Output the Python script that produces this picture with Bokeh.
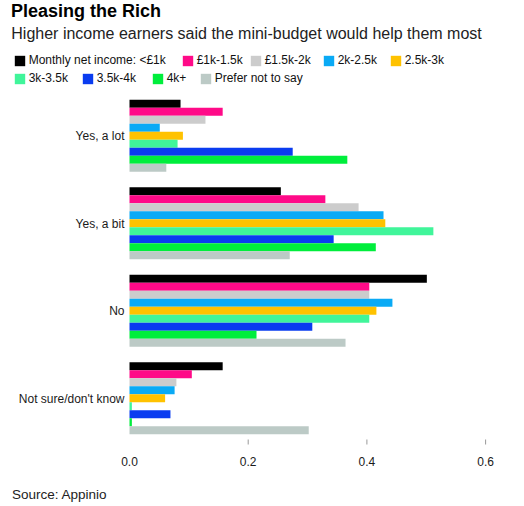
from bokeh.plotting import figure
from bokeh.models import Range1d, Legend, LegendItem
from bokeh.core.properties import value
from bokeh.embed import file_html
from bokeh.resources import INLINE

# ---- data ----
categories = ["Yes, a lot", "Yes, a bit", "No", "Not sure/don't know"]
series_labels = ["Monthly net income: <£1k", "£1k-1.5k", "£1.5k-2k", "2k-2.5k",
                 "2.5k-3k", "3k-3.5k", "3.5k-4k", "4k+", "Prefer not to say"]
v_lt1k = [0.086, 0.255, 0.501, 0.157]
v_1k_15k = [0.157, 0.330, 0.404, 0.105]
v_15k_2k = [0.128, 0.386, 0.404, 0.079]
v_2k_25k = [0.051, 0.428, 0.443, 0.076]
v_25k_3k = [0.090, 0.431, 0.416, 0.060]
v_3k_35k = [0.081, 0.512, 0.404, 0.004]
v_35k_4k = [0.275, 0.344, 0.308, 0.069]
v_4kplus = [0.367, 0.415, 0.214, 0.004]
v_prefer = [0.062, 0.270, 0.364, 0.302]
series_values = [v_lt1k, v_1k_15k, v_15k_2k, v_2k_25k, v_25k_3k,
                 v_3k_35k, v_35k_4k, v_4kplus, v_prefer]
colors = ["#000000", "#ff0a88", "#cccccc", "#0aaaf5", "#ffc200",
          "#40f59a", "#0a3cf0", "#00ee3c", "#bccac6"]
x_ticks = [0, 0.2, 0.4, 0.6]
title_text = "Pleasing the Rich"
subtitle_text = "Higher income earners said the mini-budget would help them most"
source_text = "Source: Appinio"

# ---- layout constants (pixels) ----
W, H = 524, 506
X0_PX, PX_PER_X = 129.0, 593.5          # where value 0 sits, px per unit
Y0_PX, PX_PER_CAT = 397.7, 87.5          # centre of last category, px per category
FONT = "Liberation Sans"
legend_square_x = [14, 182, 250, 323, 390, 14, 82, 152, 200]
legend_row = [0, 0, 0, 0, 0, 1, 1, 1, 1]
legend_row_vy = [439, 421]

p = figure(width=W, height=H, title=None, toolbar_location=None,
           output_backend="svg",
           x_range=Range1d(-X0_PX / PX_PER_X, (W - X0_PX) / PX_PER_X),
           y_range=Range1d(-(H - Y0_PX) / PX_PER_CAT, Y0_PX / PX_PER_CAT),
           x_axis_location=None, y_axis_location=None,
           min_border=0)
p.extra_x_ranges = {"px": Range1d(0, W)}
p.extra_y_ranges = {"px": Range1d(H, 0)}
p.outline_line_color = None
p.grid.visible = False
p.background_fill_color = "white"
p.border_fill_color = "white"

n = len(series_labels)
bar_h = 0.823 / n
ncat = len(categories)
base_y = [ncat - 1 - i for i in range(ncat)]

renderers = []
for j, (vals, col) in enumerate(zip(series_values, colors)):
    off = ((n - 1) / 2 - j) * bar_h
    ys = [b + off for b in base_y]
    r = p.hbar(y=ys, right=vals, left=0, height=bar_h, fill_color=col,
               line_color=None)
    renderers.append(r)

# category labels (y axis)
p.text(x=[124] * ncat, y=base_y, text=categories, x_range_name="px",
       text_font=value(FONT), text_font_size="12px", text_color="#1a1a1a",
       text_align="right", text_baseline="alphabetic", y_offset=0.5)

# x axis: tick marks and labels
p.segment(x0=x_ticks[1:], x1=x_ticks[1:], y0=439, y1=444, y_range_name="px",
          line_color="#999999", line_width=1)
p.text(x=x_ticks, y=[461] * len(x_ticks), text=[f"{t:.1f}" for t in x_ticks],
       y_range_name="px", text_font=value(FONT), text_font_size="12px",
       text_color="#1a1a1a", text_align="center", text_baseline="alphabetic")

# title, subtitle, source
p.text(x=[10.4], y=[10], text=[title_text], x_range_name="px", y_range_name="px",
       text_font=value(FONT), text_font_size="18px", text_font_style="bold",
       text_color="#000000", text_align="left", text_baseline="alphabetic")
p.text(x=[10.8], y=[32.5], text=[subtitle_text], x_range_name="px", y_range_name="px",
       text_font=value(FONT), text_font_size="16px", text_color="#222222",
       text_align="left", text_baseline="alphabetic")
p.text(x=[11.4], y=[493.5], text=[source_text], x_range_name="px", y_range_name="px",
       text_font=value(FONT), text_font_size="13.5px", text_color="#222222",
       text_align="left", text_baseline="alphabetic")

# legend: one entry per series, placed like the reference
for i in range(n):
    leg = Legend(items=[LegendItem(label=series_labels[i], renderers=[renderers[i]])],
                 orientation="horizontal",
                 location=(legend_square_x[i] - 1.3, legend_row_vy[legend_row[i]]),
                 padding=0, margin=0, spacing=0, label_standoff=3,
                 glyph_width=13, glyph_height=13, label_height=13,
                 label_text_font=FONT, label_text_font_size="12px",
                 label_text_color="#111111",
                 border_line_color=None, background_fill_alpha=0)
    p.add_layout(leg)

open("out.html", "w").write(file_html(p, INLINE))
